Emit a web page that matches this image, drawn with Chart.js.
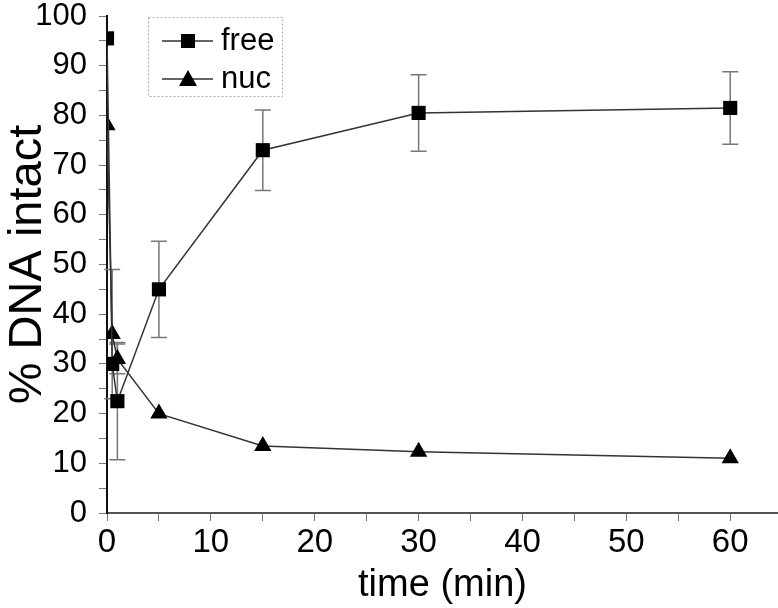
<!DOCTYPE html>
<html lang="en">
<head>
<meta charset="UTF-8">
<title>% DNA intact</title>
<style>
  html, body { margin: 0; padding: 0; background: #fff; }
  #wrap { width: 778px; height: 608px; }
</style>
</head>
<body>
<div id="wrap"><canvas id="chart" width="778" height="608"></canvas></div>
<script src="https://cdn.jsdelivr.net/npm/chart.js"></script>
<script>
// time points (min) and % DNA intact
const times = [0, 0.5, 1, 5, 15, 30, 60];
const freeVals = [95.5, 30, 22.5, 45, 73, 80.5, 81.5];
const freeErr = [0, 0, 11.8, 9.7, 8.1, 7.7, 7.3];
const nucVals = [78, 36, 31, 20, 13.5, 12.3, 11];
const nucErr = [0, 13, 3, 0, 0, 0, 0];
const xTicks = [0, 5, 10, 15, 20, 25, 30, 35, 40, 45, 50, 55, 60];
const yTicks = [0, 5, 10, 15, 20, 25, 30, 35, 40, 45, 50, 55, 60, 65, 70, 75, 80, 85, 90, 95, 100];

const toPoints = vals => vals.map((v, i) => ({ x: times[i], y: v }));

// vertical error bars with caps, drawn under the markers
const errorBars = {
  id: 'errorBars',
  beforeDatasetsDraw(chart) {
    const ctx = chart.ctx;
    const xs = chart.scales.x, ys = chart.scales.y;
    ctx.save();
    ctx.strokeStyle = '#777';
    ctx.lineWidth = 1.5;
    chart.data.datasets.forEach(ds => {
      (ds.errors || []).forEach((e, i) => {
        if (!e) return;
        const p = ds.data[i];
        const x = xs.getPixelForValue(p.x);
        const top = ys.getPixelForValue(p.y + e);
        const bot = ys.getPixelForValue(p.y - e);
        ctx.beginPath();
        ctx.moveTo(x, top); ctx.lineTo(x, bot);
        ctx.moveTo(x - 8, top); ctx.lineTo(x + 8, top);
        ctx.moveTo(x - 8, bot); ctx.lineTo(x + 8, bot);
        ctx.stroke();
      });
    });
    ctx.restore();
  }
};

// legend box inside the plot, top left
const boxLegend = {
  id: 'boxLegend',
  afterDraw(chart) {
    const ctx = chart.ctx;
    const bx = 148, by = 17, bw = 134, bh = 79;
    ctx.save();
    ctx.strokeStyle = '#aaa';
    ctx.lineWidth = 1;
    ctx.setLineDash([2, 2]);
    ctx.strokeRect(bx + 0.5, by + 0.5, bw, bh);
    ctx.setLineDash([]);
    chart.data.datasets.forEach((ds, i) => {
      const y = by + 24 + i * 38;
      ctx.strokeStyle = '#333';
      ctx.lineWidth = 1.5;
      ctx.beginPath();
      ctx.moveTo(162, y); ctx.lineTo(213, y);
      ctx.stroke();
      ctx.fillStyle = '#000';
      ctx.beginPath();
      if (ds.pointStyle === 'rect') {
        ctx.rect(181, y - 7, 14, 14);
      } else {
        ctx.moveTo(188, y - 9); ctx.lineTo(197, y + 7); ctx.lineTo(179, y + 7); ctx.closePath();
      }
      ctx.fill();
      ctx.font = '31px "Liberation Sans", Arial, sans-serif';
      ctx.textBaseline = 'middle';
      ctx.fillText(ds.label, 221, y);
    });
    ctx.restore();
  }
};

new Chart(document.getElementById('chart'), {
  type: 'line',
  data: {
    datasets: [
      {
        label: 'free',
        data: toPoints(freeVals),
        errors: freeErr,
        borderColor: '#333',
        borderWidth: 1.5,
        pointStyle: 'rect',
        pointRadius: 10,
        pointBackgroundColor: '#000',
        pointBorderColor: '#000',
        pointBorderWidth: 0,
        fill: false,
        tension: 0
      },
      {
        label: 'nuc',
        data: toPoints(nucVals),
        errors: nucErr,
        borderColor: '#333',
        borderWidth: 1.5,
        pointStyle: 'triangle',
        pointRadius: 10,
        pointBackgroundColor: '#000',
        pointBorderColor: '#000',
        pointBorderWidth: 0,
        fill: false,
        tension: 0
      }
    ]
  },
  options: {
    responsive: false,
    animation: false,
    devicePixelRatio: 1,
    layout: { autoPadding: false, padding: { top: 16, right: 0, left: 0, bottom: 0 } },
    plugins: {
      legend: { display: false },
      tooltip: { enabled: false }
    },
    scales: {
      x: {
        type: 'linear',
        min: 0,
        max: 64.6,
        afterBuildTicks: s => { s.ticks = xTicks.map(v => ({ value: v })); },
        afterFit: s => { s.height = 95; s.paddingLeft = 0; s.paddingRight = 0; },
        border: { color: '#555', width: 2 },
        grid: { drawOnChartArea: false, drawTicks: true, tickLength: 8, color: '#777' },
        ticks: {
          autoSkip: false,
          maxRotation: 0,
          padding: 2,
          color: '#000',
          font: { family: '"Liberation Sans", Arial, sans-serif', size: 33 },
          callback: v => (v % 10 === 0 ? v : '')
        },
        title: {
          display: true,
          text: 'time (min)',
          color: '#000',
          padding: { top: 0, bottom: 0 },
          font: { family: '"Liberation Sans", Arial, sans-serif', size: 38 }
        }
      },
      y: {
        min: 0,
        max: 100,
        afterBuildTicks: s => { s.ticks = yTicks.map(v => ({ value: v })); },
        afterFit: s => { s.width = 107; s.paddingTop = 0; s.paddingBottom = 0; },
        border: { color: '#111', width: 2 },
        grid: { drawOnChartArea: false, drawTicks: true, tickLength: 8, color: '#777' },
        ticks: {
          autoSkip: false,
          padding: 12,
          color: '#000',
          font: { family: '"Liberation Sans", Arial, sans-serif', size: 31 },
          callback: v => (v % 10 === 0 ? v : '')
        },
        title: {
          display: true,
          text: '% DNA intact',
          color: '#000',
          padding: { top: 0, bottom: 0 },
          font: { family: '"Liberation Sans", Arial, sans-serif', size: 47 }
        }
      }
    }
  },
  plugins: [errorBars, boxLegend]
});
</script>
</body>
</html>
